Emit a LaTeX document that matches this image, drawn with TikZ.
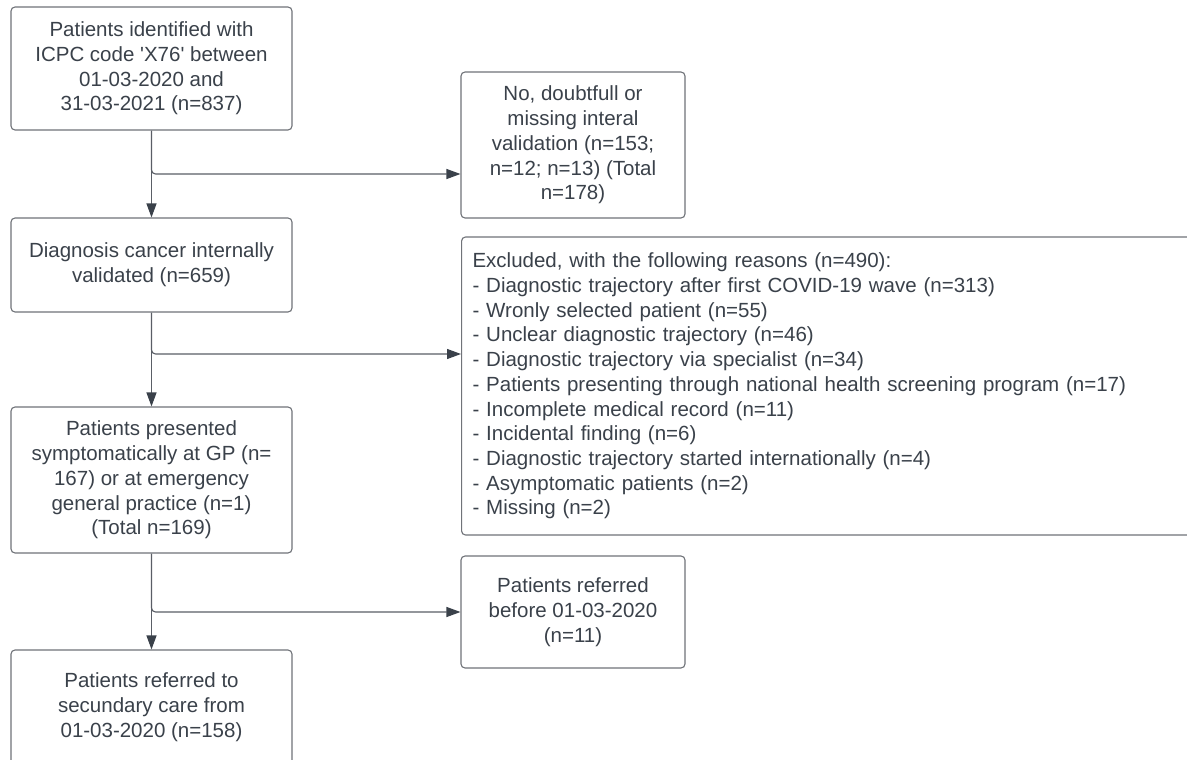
\documentclass[tikz,border=0pt]{standalone}
\usepackage{fontspec}
\setmainfont{Liberation Sans}
\usetikzlibrary{arrows.meta}
\definecolor{txt}{HTML}{3A414A}
\definecolor{bord}{HTML}{707379}
\definecolor{conn}{HTML}{5A5E66}
\tikzset{
  box/.style={draw=bord, line width=1.1pt, rounded corners=4pt, fill=white,
    text=txt, align=center, inner sep=0pt,
    font=\fontsize{20.5}{24.7}\selectfont},
  arr/.style={draw=conn, line width=1.1pt,
    -{Triangle[length=14pt,width=10pt,color=txt,fill=txt]}},
}
\begin{document}
\begin{tikzpicture}[x=1pt,y=-1pt]
\path[use as bounding box, clip] (0,0) rectangle (1187,760);
\fill[white] (0,0) rectangle (1187,760);

\node[box, minimum width=281, minimum height=123] (b1) at (151.5,68.5)
  {Patients identified with\\ICPC code \textquotesingle X76\textquotesingle{} between\\01-03-2020 and\\31-03-2021 (n=837)};
\node[box, minimum width=224, minimum height=146] (b2) at (573,145)
  {No, doubtfull or\\missing interal\\validation (n=153;\\n=12; n=13) (Total\\n=178)};
\node[box, minimum width=281, minimum height=94] (b3) at (151.5,265)
  {Diagnosis cancer internally\\validated (n=659)};
\node[box, anchor=west, minimum height=298, text width=738, inner xsep=11pt, align=left] (b4) at (461,386)
  {Excluded, with the following reasons (n=490):\\
   - Diagnostic trajectory after first COVID-19 wave (n=313)\\
   - Wronly selected patient (n=55)\\
   - Unclear diagnostic trajectory (n=46)\\
   - Diagnostic trajectory via specialist (n=34)\\
   - Patients presenting through national health screening program (n=17)\\
   - Incomplete medical record (n=11)\\
   - Incidental finding (n=6)\\
   - Diagnostic trajectory started internationally (n=4)\\
   - Asymptomatic patients (n=2)\\
   - Missing (n=2)};
\node[box, minimum width=281, minimum height=146] (b5) at (151.5,480)
  {Patients presented\\symptomatically at GP (n=\\167) or at emergency\\general practice (n=1)\\(Total n=169)};
\node[box, minimum width=224, minimum height=112] (b6) at (573,612)
  {Patients referred\\before 01-03-2020\\(n=11)};
\node[box, minimum width=281, minimum height=114] (b7) at (151.5,707)
  {Patients referred to\\secundary care from\\01-03-2020 (n=158)};

\coordinate (j1) at (151.5,174);
\coordinate (j2) at (151.5,354);
\coordinate (j3) at (151.5,612);

\draw[arr] (b1.south) -- (b3.north);
\draw[arr, rounded corners=4pt] (b1.south) |- (b2.west |- j1);
\draw[arr] (b3.south) -- (b5.north);
\draw[arr, rounded corners=4pt] (b3.south) |- (b4.west |- j2);
\draw[arr] (b5.south) -- (b7.north);
\draw[arr, rounded corners=4pt] (b5.south) |- (b6.west |- j3);
\end{tikzpicture}
\end{document}
